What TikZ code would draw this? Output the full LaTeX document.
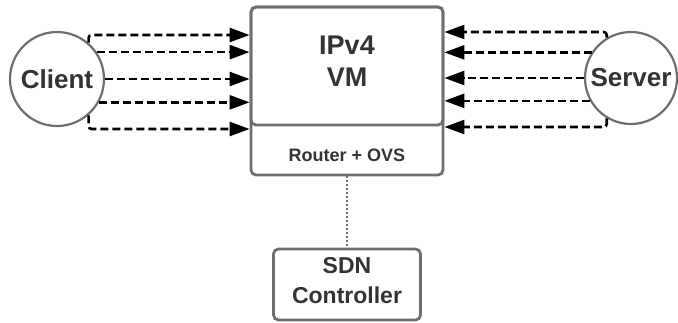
\documentclass[tikz,border=0pt]{standalone}
\usepackage{fontspec}
\setmainfont{Liberation Sans}
\usetikzlibrary{arrows.meta}

\definecolor{edgegray}{HTML}{6E6E6E}
\definecolor{textgray}{HTML}{333333}

\tikzset{
  host/.style={circle, draw=edgegray, line width=2.2pt, fill=white, inner sep=0pt,
    text=textgray, font=\fontsize{26}{30}\selectfont\bfseries},
  panel/.style={rectangle, draw=edgegray, line width=2.8pt, rounded corners=5pt,
    inner sep=0pt, minimum width=192pt},
  caption/.style={text=textgray, align=center},
  flow/.style={draw=black, line width=2.6pt, dash pattern=on 8pt off 4pt,
    rounded corners=3pt, -{Triangle[length=20pt, width=14pt]}}
}

\begin{document}
\begin{tikzpicture}[x=1pt, y=-1pt]
    \useasboundingbox (0,0) rectangle (678,322);

    % Router box with the VM on top of it
    \node[panel, minimum height=168pt] (router) at (347,91) {};
    \node[panel, minimum height=118pt] (vm) at (347,66) {};
    \node[caption, font=\fontsize{27}{32}\selectfont\bfseries] (vmtext) at (347,61) {IPv4\\VM};
    \node[caption, font=\fontsize{18}{22}\selectfont\bfseries] (routertext) at (347,155) {Router + OVS};

    % SDN controller below
    \node[panel, minimum width=147pt, minimum height=71pt] (sdn) at (347,284.5) {};
    \node[caption, font=\fontsize{23}{30}\selectfont\bfseries] (sdntext) at (347,281) {SDN\\Controller};
    \draw[edgegray, line width=1.5pt, dash pattern=on 2pt off 2pt] (router.south) -- (sdn.north);

    % End hosts
    \node[host, minimum size=94pt] (client) at (57,79) {Client};
    \node[host, minimum size=92pt] (server) at (631,78) {Server};

    % Client -> VM
    \draw[flow] (client.49) |- (vm.west |- 0,35);
    \foreach \ang in {34, 0, -29}
        \draw[flow] (client.\ang) -- (client.\ang -| vm.west);
    \draw[flow] (client.-49) |- (vm.west |- 0,129);

    % Server -> VM
    \draw[flow] (server.121) |- (vm.east |- 0,32);
    \foreach \ang in {147, 180, 209}
        \draw[flow] (server.\ang) -- (server.\ang -| vm.east);
    \draw[flow] (server.239) |- (vm.east |- 0,127);
\end{tikzpicture}
\end{document}
